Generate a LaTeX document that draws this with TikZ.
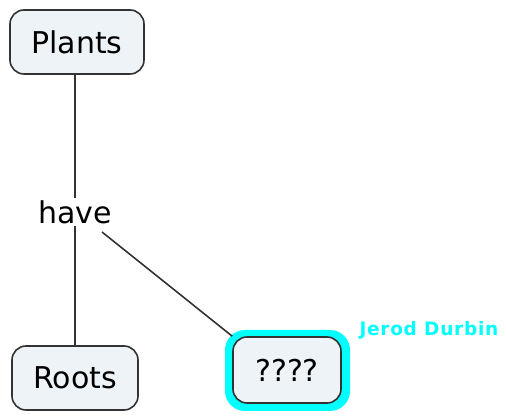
\documentclass[tikz,border=0pt]{standalone}
\usepackage{fontspec}
\setmainfont{DejaVu Sans}
\newfontfamily\authorfont[LetterSpace=4]{DejaVu Sans}
\definecolor{boxfill}{HTML}{EEF3F7}
\definecolor{boxline}{HTML}{333333}
\definecolor{halo}{HTML}{00FFFF}
\begin{document}
\begin{tikzpicture}[x=1pt,y=-1pt,
  concept/.style={draw=boxline, fill=boxfill, line width=1.6pt, rounded corners=14pt,
    minimum height=64pt, inner sep=0pt, font=\fontsize{30}{34}\selectfont},
  link/.style={draw=boxline, line width=1.6pt},
  linklabel/.style={inner sep=2pt, font=\fontsize{30}{34}\selectfont}]
\useasboundingbox[fill=white] (0,0) rectangle (506,419);
\node[concept, minimum width=134pt] (plants) at (77,42) {Plants};
\node[linklabel] (have) at (75,212) {have};
\node[concept, minimum width=126pt] (roots) at (75,378) {Roots};
\fill[halo, rounded corners=20pt] (225,330) rectangle (350,411);
\node[concept, minimum width=108pt, minimum height=66pt] (q) at (287,370) {????};
\draw[link] (plants.south -| have.north) -- (have.north);
\draw[link] (have.south) -- (have.south |- roots.north);
\coordinate (hs) at (102,232);
\draw[link] (hs) -- (q.north west);
\node[anchor=west, text=halo, font=\authorfont\fontsize{18.5}{22}\selectfont\bfseries] (author) at (356,330) {Jerod Durbin};
\end{tikzpicture}
\end{document}
